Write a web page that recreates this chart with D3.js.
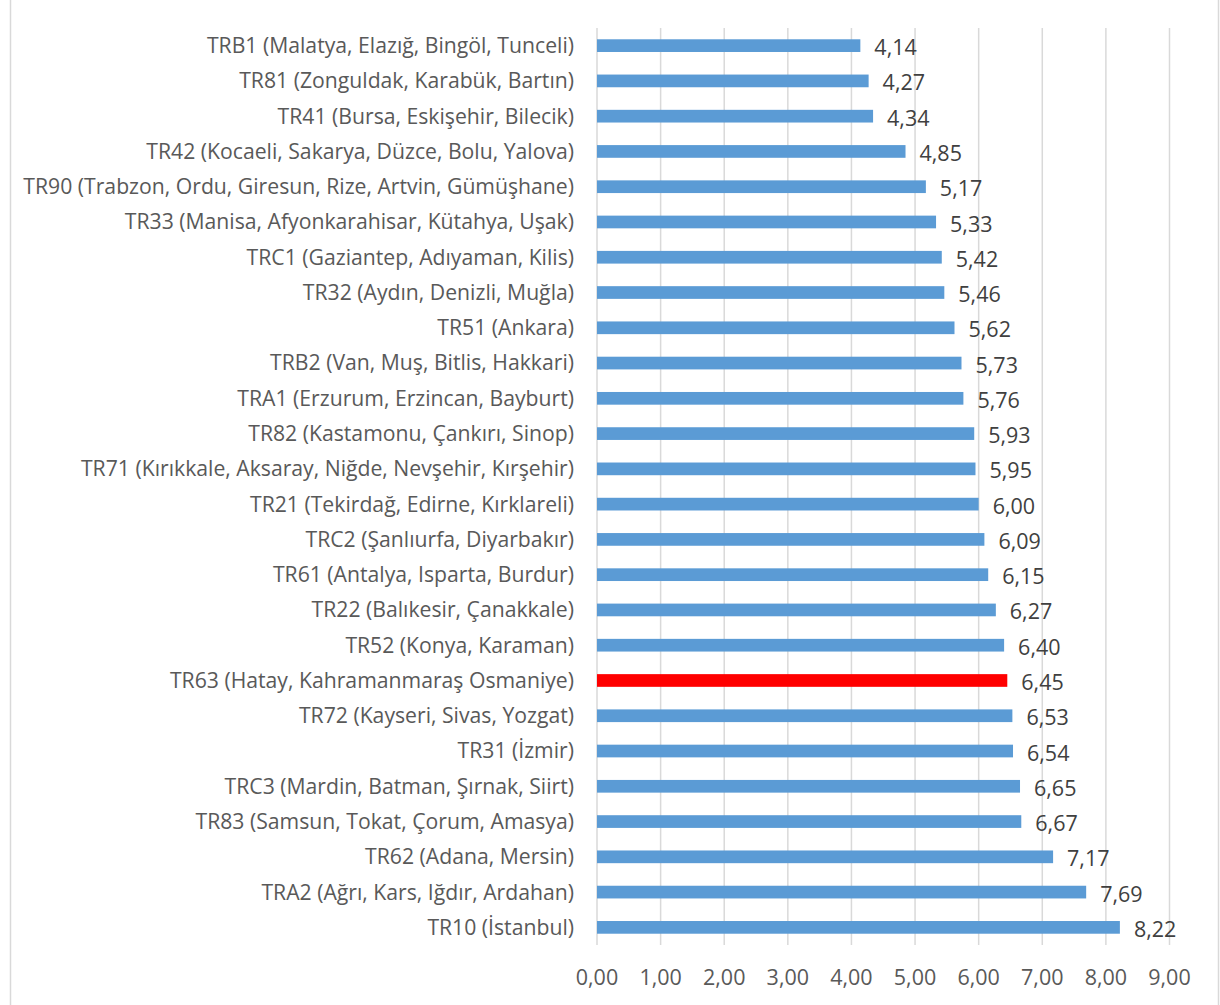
<!DOCTYPE html>
<html>
<head>
<meta charset="utf-8">
<script src="https://cdn.jsdelivr.net/npm/d3@7"></script>
<style>
  body { margin: 0; background: #fff; }
  svg text { font-family: "Open Sans", "Noto Sans", sans-serif; fill: #595959; }
</style>
</head>
<body>
<svg id="chart" width="1220" height="1005"></svg>
<script>
// regions, top to bottom as in the chart
var regions = [
  "TRB1 (Malatya, Elazığ, Bingöl, Tunceli)",
  "TR81 (Zonguldak, Karabük, Bartın)",
  "TR41 (Bursa, Eskişehir, Bilecik)",
  "TR42 (Kocaeli, Sakarya, Düzce, Bolu, Yalova)",
  "TR90 (Trabzon, Ordu, Giresun, Rize, Artvin, Gümüşhane)",
  "TR33 (Manisa, Afyonkarahisar, Kütahya, Uşak)",
  "TRC1 (Gaziantep, Adıyaman, Kilis)",
  "TR32 (Aydın, Denizli, Muğla)",
  "TR51 (Ankara)",
  "TRB2 (Van, Muş, Bitlis, Hakkari)",
  "TRA1 (Erzurum, Erzincan, Bayburt)",
  "TR82 (Kastamonu, Çankırı, Sinop)",
  "TR71 (Kırıkkale, Aksaray, Niğde, Nevşehir, Kırşehir)",
  "TR21 (Tekirdağ, Edirne, Kırklareli)",
  "TRC2 (Şanlıurfa, Diyarbakır)",
  "TR61 (Antalya, Isparta, Burdur)",
  "TR22 (Balıkesir, Çanakkale)",
  "TR52 (Konya, Karaman)",
  "TR63 (Hatay, Kahramanmaraş Osmaniye)",
  "TR72 (Kayseri, Sivas, Yozgat)",
  "TR31 (İzmir)",
  "TRC3 (Mardin, Batman, Şırnak, Siirt)",
  "TR83 (Samsun, Tokat, Çorum, Amasya)",
  "TR62 (Adana, Mersin)",
  "TRA2 (Ağrı, Kars, Iğdır, Ardahan)",
  "TR10 (İstanbul)"
];
var values = [4.14, 4.27, 4.34, 4.85, 5.17, 5.33, 5.42, 5.46, 5.62, 5.73, 5.76, 5.93, 5.95,
              6.00, 6.09, 6.15, 6.27, 6.40, 6.45, 6.53, 6.54, 6.65, 6.67, 7.17, 7.69, 8.22];
var highlight = "TR63 (Hatay, Kahramanmaraş Osmaniye)";
var xTicks = [0, 1, 2, 3, 4, 5, 6, 7, 8, 9];

var fmt = function(v) { return v.toFixed(2).replace(".", ","); };

var svg = d3.select("#chart");

// outer frame
svg.append("rect")
  .attr("x", 10.5).attr("y", -2)
  .attr("width", 1208).attr("height", 1020)
  .attr("fill", "none").attr("stroke", "#d9d9d9").attr("stroke-width", 1.5);

var x = d3.scaleLinear().domain([0, 9]).range([597, 1169.5]);
var y = d3.scaleBand().domain(regions).range([28, 945]).paddingInner(0.64).paddingOuter(0.32);

// gridlines
svg.append("g").selectAll("line").data(xTicks).join("line")
  .attr("x1", d => x(d)).attr("x2", d => x(d))
  .attr("y1", 28).attr("y2", 945)
  .attr("stroke", "#d9d9d9").attr("stroke-width", 1.5);

// bars
var rows = regions.map((r, i) => ({ name: r, value: values[i] }));
svg.append("g").selectAll("rect").data(rows).join("rect")
  .attr("x", x(0))
  .attr("y", d => y(d.name))
  .attr("width", d => x(d.value) - x(0))
  .attr("height", y.bandwidth())
  .attr("fill", d => d.name === highlight ? "#ff0000" : "#5b9bd5");

// value labels
svg.append("g").selectAll("text").data(rows).join("text")
  .attr("x", d => x(d.value) + 14)
  .attr("y", d => y(d.name) + y.bandwidth() / 2 + 2)
  .attr("dy", "0.35em")
  .attr("font-size", 21.5)
  .style("fill", "#404040")
  .text(d => fmt(d.value));

// category labels
svg.append("g").selectAll("text").data(rows).join("text")
  .attr("x", 574)
  .attr("y", d => y(d.name) + y.bandwidth() / 2)
  .attr("dy", "0.35em")
  .attr("text-anchor", "end")
  .attr("font-size", 21.2)
  .text(d => d.name);

// x axis labels
svg.append("g").selectAll("text").data(xTicks).join("text")
  .attr("x", d => x(d))
  .attr("y", 977)
  .attr("dy", "0.35em")
  .attr("text-anchor", "middle")
  .attr("font-size", 21.5)
  .text(d => fmt(d));
</script>
</body>
</html>
